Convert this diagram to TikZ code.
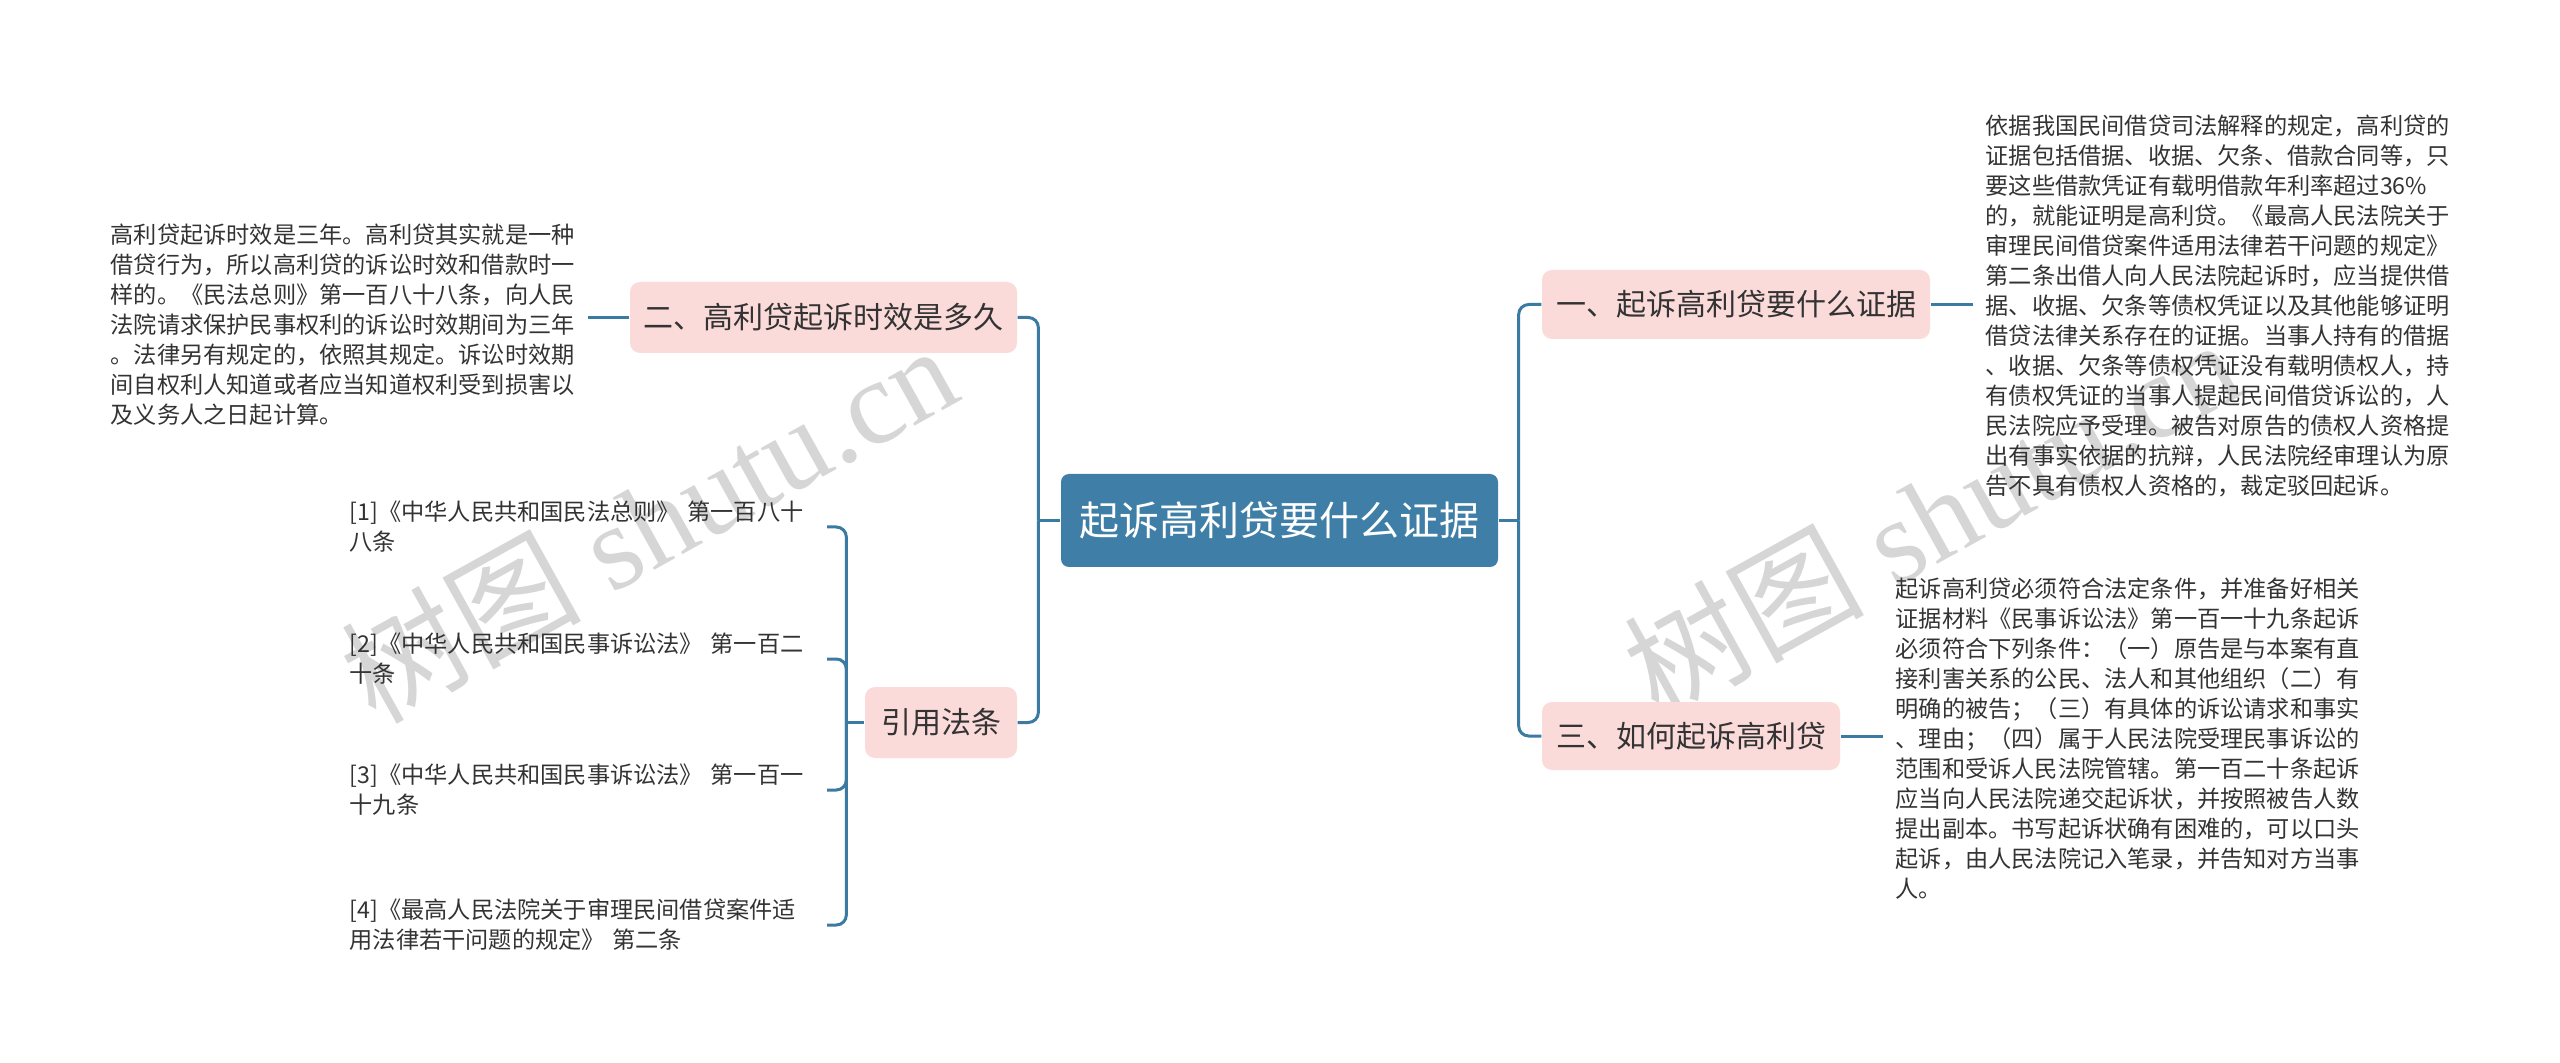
\documentclass[tikz,border=0pt]{standalone}
\usepackage{fontspec}
\setmainfont{Noto Sans CJK SC}
\newfontfamily\wmcjk{Noto Sans CJK SC}
\newfontfamily\wmlat{Liberation Serif}
\usetikzlibrary{calc}
\definecolor{mainblue}{HTML}{3F7EA6}
\definecolor{linkblue}{HTML}{3B7AA2}
\definecolor{pinkfill}{HTML}{FADBDA}
\definecolor{txtcol}{HTML}{333333}
\definecolor{wmcol}{HTML}{D6D6D6}
\begin{document}
\begin{tikzpicture}[x=0.3pt,y=-0.3pt,
  rootbox/.style={fill=mainblue, rounded corners=2.4pt, text=white,
    font=\fontsize{12}{14}\selectfont, minimum width=131.1pt, minimum height=27.9pt, inner sep=0pt},
  topicbox/.style={fill=pinkfill, rounded corners=3pt, text=txtcol,
    font=\fontsize{9}{11}\selectfont, minimum height=21.3pt, inner sep=0pt},
  leafbox/.style={text=txtcol, font=\fontsize{6.96}{9}\selectfont, align=left,
    text width=139.4pt, inner xsep=3.6pt, inner ysep=0pt},
  link/.style={draw=linkblue, line width=0.9pt, rounded corners=3pt},
  wmark/.style={text=wmcol, rotate=29, font=\fontsize{36}{36}\selectfont, inner sep=0pt}]
\useasboundingbox (0,0) rectangle (2560,1063);

% watermarks
\node[wmark] (wm1) at (648,522) {{\wmcjk 树图}\hspace{0.25em}{\wmlat shutu.cn}};
\node[wmark] (wm2) at (1931,516) {{\wmcjk 树图}\hspace{0.25em}{\wmlat shutu.cn}};

% main nodes
\node[rootbox] (root) at (1279.5,520.5) {起诉高利贷要什么证据};
\node[topicbox, minimum width=116.1pt] (t2) at (823.5,317.5) {二、高利贷起诉时效是多久};
\node[topicbox, minimum width=116.4pt, minimum height=20.7pt] (t1) at (1736,304.5) {一、起诉高利贷要什么证据};
\node[topicbox, minimum width=89.4pt, minimum height=20.4pt] (t3) at (1691,736) {三、如何起诉高利贷};
\node[topicbox, minimum width=45.6pt] (tr) at (941,722.5) {引用法条};

% leaf texts
\node[leafbox, anchor=east] (l2) at (588,325) {高利贷起诉时效是三年。高利贷其实就是一种\\
借贷行为，所以高利贷的诉讼时效和借款时一\\
样的。《民法总则》第一百八十八条，向人民\\
法院请求保护民事权利的诉讼时效期间为三年\\
。法律另有规定的，依照其规定。诉讼时效期\\
间自权利人知道或者应当知道权利受到损害以\\
及义务人之日起计算。};

\node[leafbox, anchor=west] (l1) at (1973,305.5) {依据我国民间借贷司法解释的规定，高利贷的\\
证据包括借据、收据、欠条、借款合同等，只\\
要这些借款凭证有载明借款年利率超过36\%\\
的，就能证明是高利贷。《最高人民法院关于\\
审理民间借贷案件适用法律若干问题的规定》\\
第二条出借人向人民法院起诉时，应当提供借\\
据、收据、欠条等债权凭证以及其他能够证明\\
借贷法律关系存在的证据。当事人持有的借据\\
、收据、欠条等债权凭证没有载明债权人，持\\
有债权凭证的当事人提起民间借贷诉讼的，人\\
民法院应予受理。被告对原告的债权人资格提\\
出有事实依据的抗辩，人民法院经审理认为原\\
告不具有债权人资格的，裁定驳回起诉。};

\node[leafbox, anchor=west] (l3) at (1883,739) {起诉高利贷必须符合法定条件，并准备好相关\\
证据材料《民事诉讼法》第一百一十九条起诉\\
必须符合下列条件：（一）原告是与本案有直\\
接利害关系的公民、法人和其他组织（二）有\\
明确的被告；（三）有具体的诉讼请求和事实\\
、理由；（四）属于人民法院受理民事诉讼的\\
范围和受诉人民法院管辖。第一百二十条起诉\\
应当向人民法院递交起诉状，并按照被告人数\\
提出副本。书写起诉状确有困难的，可以口头\\
起诉，由人民法院记入笔录，并告知对方当事\\
人。};

\node[leafbox, anchor=east] (r1) at (827,527) {[1]《中华人民共和国民法总则》 第一百八十\\八条};
\node[leafbox, anchor=east] (r2) at (827,659) {[2]《中华人民共和国民事诉讼法》 第一百二\\十条};
\node[leafbox, anchor=east] (r3) at (827,790) {[3]《中华人民共和国民事诉讼法》 第一百一\\十九条};
\node[leafbox, anchor=east] (r4) at (827,925) {[4]《最高人民法院关于审理民间借贷案件适\\用法律若干问题的规定》 第二条};

% junctions
\coordinate (jl) at ($(root.west)+(-22,0)$);
\coordinate (jr) at ($(root.east)+(20,0)$);
\coordinate (jb) at ($(tr.west)+(-18,0)$);

% connectors
\draw[link] (root.west) -- (jl);
\draw[link] (t2.east) -| (jl);
\draw[link] (tr.east) -| (jl);
\draw[link] (root.east) -- (jr);
\draw[link] (t1.west) -| (jr);
\draw[link] (t3.west) -| (jr);
\draw[link] (tr.west) -- (jb);
\foreach \r in {r1,r2,r3,r4} \draw[link] (\r.east) -| (jb);
\draw[link] (t2.west) -- (l2.east |- t2.west);
\draw[link] (t1.east) -- (l1.west |- t1.east);
\draw[link] (t3.east) -- (l3.west |- t3.east);
\end{tikzpicture}
\end{document}
